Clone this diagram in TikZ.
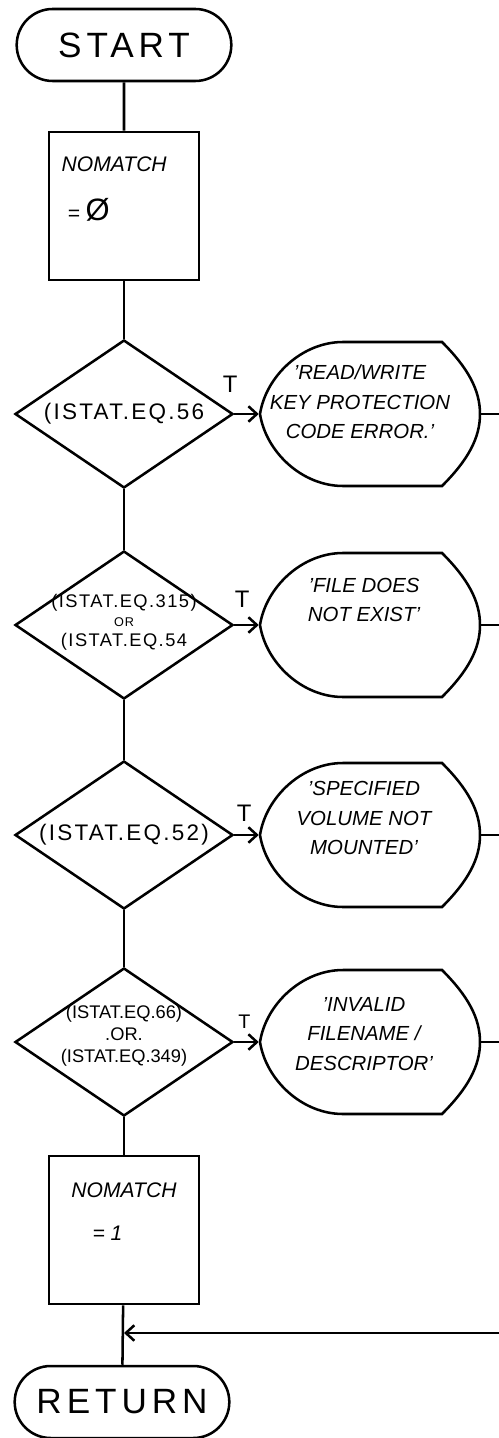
\documentclass[tikz,border=0pt]{standalone}
\usepackage{amssymb}
\usepackage{fontspec}
\setmainfont{Liberation Sans}
\usetikzlibrary{shapes.geometric,shapes.misc,arrows.meta}

% outline of a display box, drawn round a named node
\newcommand{\dispoutline}[1]{%
  \draw[shift={(#1.center)}] (-2.75,0) .. controls (-2.6,0.95) and (-1.7,1.8) .. (-0.675,1.8)
    -- (1.8,1.8) .. controls (2.45,1.15) and (2.75,0.6) .. (2.75,0)
    .. controls (2.75,-0.6) and (2.45,-1.15) .. (1.8,-1.8)
    -- (-0.675,-1.8) .. controls (-1.7,-1.8) and (-2.6,-0.95) .. cycle;}

\begin{document}
\begin{tikzpicture}[x=1cm,y=1cm,line width=1.8pt,
    term/.style={draw,rounded rectangle,minimum width=5.6cm,minimum height=1.8cm,
      font=\addfontfeature{LetterSpace=14}\fontsize{25}{28}\selectfont},
    proc/.style={draw,minimum width=3.75cm,minimum height=3.7cm},
    decide/.style={draw,diamond,minimum width=5.45cm,minimum height=3.7cm,inner sep=0pt},
    cond/.style={align=center,font=\addfontfeature{LetterSpace=10}\fontsize{16}{18}\selectfont},
    disp/.style={minimum width=5.5cm,minimum height=3.6cm,inner sep=0pt},
    msg/.style={align=center,font=\itshape\fontsize{14.5}{21}\selectfont},
    tlabel/.style={font=\fontsize{17}{20}\selectfont},
    flow/.style={-{Straight Barb[length=6pt,width=11pt]}}]

  \useasboundingbox (0,0) rectangle (12.475,-35.95);
  \coordinate (edge) at (12.475,0);

  \node[term] (start) at (3.1,-1.125) {START};

  \node[proc] (b1) at (3.1,-5.15) {};
  \node[anchor=north west,align=left,font=\itshape\fontsize{15}{18}\selectfont] (b1t)
    at ([shift={(0.2,-0.5)}]b1.north west)
    {NOMATCH\\[0.6cm]\ = {\upshape\fontsize{22}{22}\selectfont Ø}};

  % tests on ISTAT
  \node[decide] (d1) at (3.1,-10.35) {};
  \node[cond] (d1t) at (3.1,-10.35) {(ISTAT.EQ.56};
  \node[decide] (d2) at (3.1,-15.625) {};
  \node[cond,font=\addfontfeature{LetterSpace=8}\fontsize{13}{14}\selectfont] (d2t) at (3.1,-15.55)
    {(ISTAT.EQ.315)\\{\fontsize{9}{9}\selectfont OR}\\(ISTAT.EQ.54};
  \node[decide] (d3) at (3.1,-20.875) {};
  \node[cond] (d3t) at (3.1,-20.875) {(ISTAT.EQ.52)};
  \node[decide] (d4) at (3.1,-26.05) {};
  \node[cond,font=\fontsize{13}{15.5}\selectfont] (d4t) at (3.1,-25.9)
    {(ISTAT.EQ.66)\\.OR.\\(ISTAT.EQ.349)};

  % messages
  \node[disp] (o1) at (9.25,-10.35) {};
  \node[msg] (o1t) at (9.0,-10.05) {'READ/WRITE\\KEY PROTECTION\\CODE ERROR.'};
  \node[disp] (o2) at (9.25,-15.625) {};
  \node[msg] (o2t) at (9.1,-15.0) {'FILE DOES\\NOT EXIST'};
  \node[disp] (o3) at (9.25,-20.875) {};
  \node[msg] (o3t) at (9.1,-20.45) {'SPECIFIED\\VOLUME NOT\\MOUNTED'};
  \node[disp] (o4) at (9.25,-26.05) {};
  \node[msg] (o4t) at (9.1,-25.85) {'INVALID\\FILENAME /\\DESCRIPTOR'};
  \dispoutline{o1}
  \dispoutline{o2}
  \dispoutline{o3}
  \dispoutline{o4}

  \node[proc] (b2) at (3.1,-30.75) {};
  \node[anchor=north,align=left,font=\itshape\fontsize{15}{18}\selectfont] (b2t)
    at ([yshift=-0.55cm]b2.north) {NOMATCH\\[0.45cm]\quad= 1};

  \node[term] (ret) at (3.05,-35.05) {RETURN};
  \coordinate (mrg) at (3.1,-33.325);

  % main line
  \draw (start) -- (b1);
  \draw (b1) -- (d1);
  \draw (d1) -- (d2);
  \draw (d2) -- (d3);
  \draw (d3) -- (d4);
  \draw (d4) -- (b2);
  \draw (b2) -- (ret);

  % true branches
  \draw[flow] (d1.east) -- (o1.west);
  \draw[flow] (d2.east) -- (o2.west);
  \draw[flow] (d3.east) -- (o3.west);
  \draw[flow] (d4.east) -- (o4.west);
  \node[tlabel] (t1) at ([shift={(-0.1,0.75)}]d1.east) {T};
  \node[tlabel] (t2) at ([shift={(0.2,0.65)}]d2.east) {T};
  \node[tlabel] (t3) at ([shift={(0.25,0.55)}]d3.east) {T};
  \node[tlabel,font=\fontsize{14}{16}\selectfont] (t4) at ([shift={(0.25,0.5)}]d4.east) {T};

  \draw (o1.east) -- (o1.east -| edge);
  \draw (o2.east) -- (o2.east -| edge);
  \draw (o3.east) -- (o3.east -| edge);
  \draw (o4.east) -- (o4.east -| edge);
  \draw[flow] (mrg -| edge) -- (mrg);
\end{tikzpicture}
\end{document}
